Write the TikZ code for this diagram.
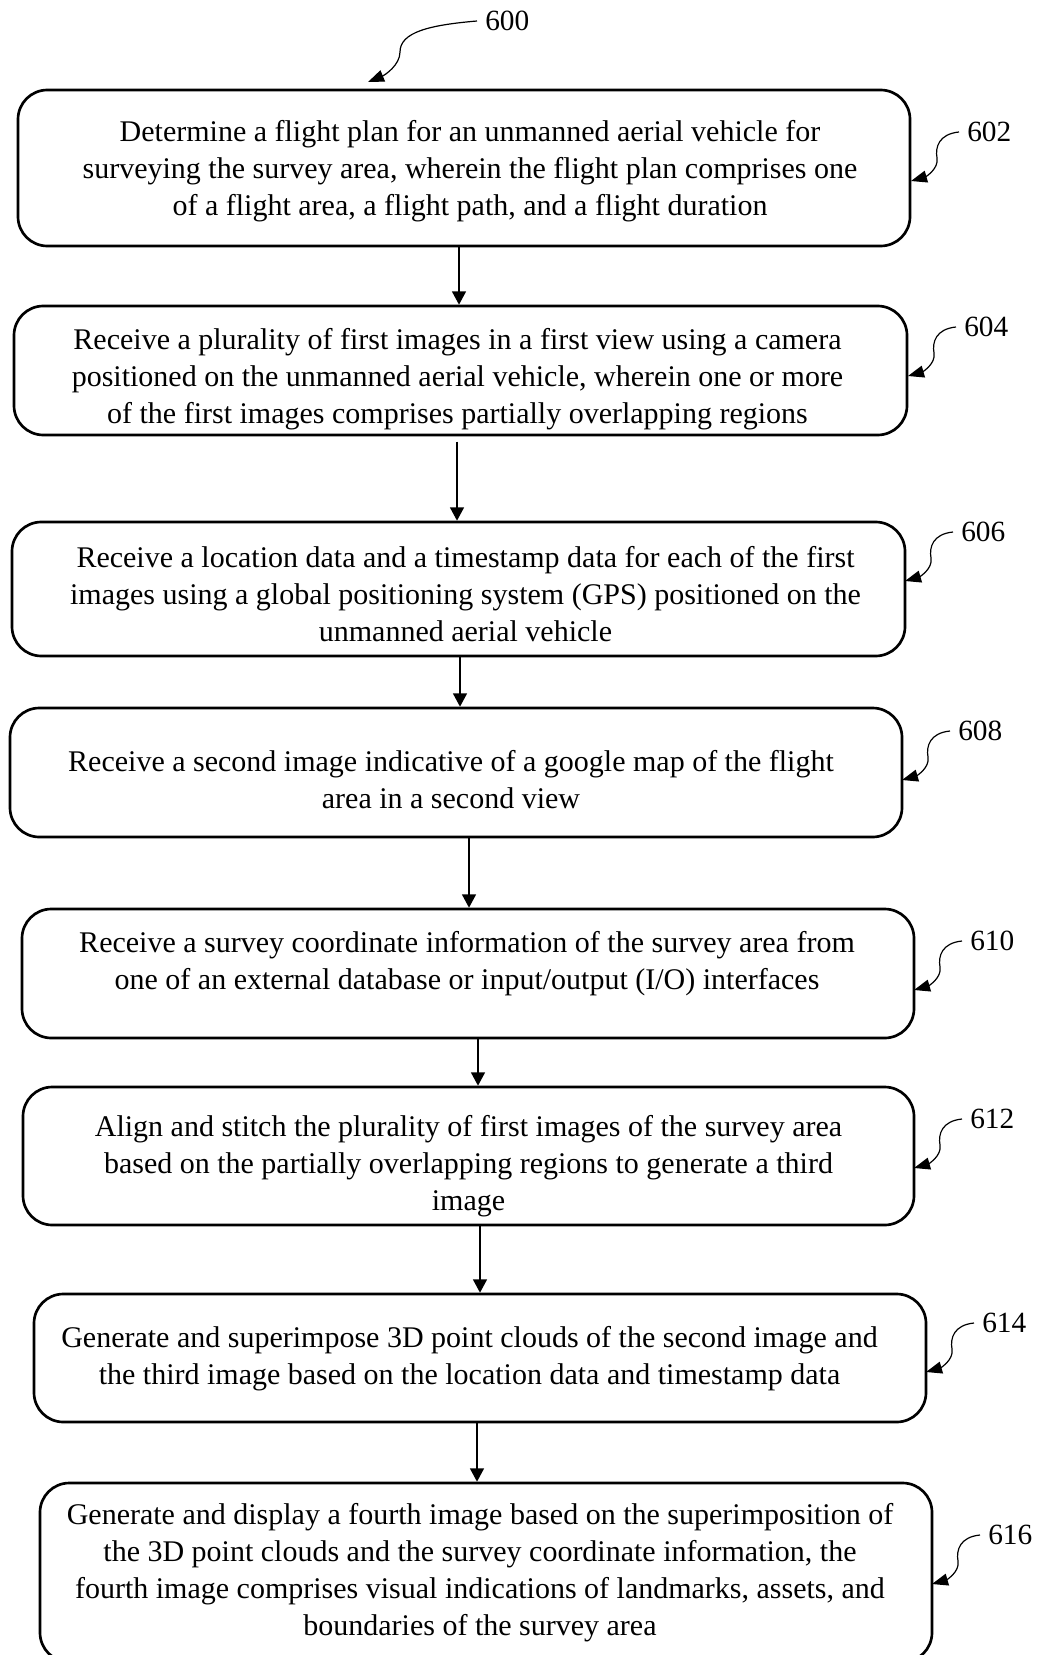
\documentclass[tikz,border=0pt]{standalone}
\usepackage{fontspec}
\setmainfont{Liberation Serif}
\usetikzlibrary{arrows.meta,calc}
\newcommand\reflab[3]{%
  \coordinate (t#1) at (#2,#3);
  \node[reftext, anchor=west] (l#1) at ($(t#1)+(48,-49)$) {#1};
  \draw[refarrow] (l#1.west) .. controls ($(t#1)+(28,-47)$) and ($(t#1)+(24,-34)$) .. ($(t#1)+(26,-23)$) .. controls ($(t#1)+(28,-12)$) and ($(t#1)+(14,-4)$) .. (t#1);
}
\begin{document}
\begin{tikzpicture}[x=0.75pt,y=-0.75pt,
  box/.style={draw, line width=2pt, rounded corners=22pt, inner sep=0pt},
  txt/.style={align=center, font=\fontsize{22.5}{27.75}\selectfont, inner sep=0pt},
  flow/.style={line width=1.1pt, -{Triangle[length=10pt,width=10.5pt]}},
  reftext/.style={font=\fontsize{22}{26}\selectfont, inner xsep=6pt, inner ysep=0pt},
  refarrow/.style={line width=0.9pt, -{Triangle[length=12pt,width=9pt]}}]
\useasboundingbox (0,0) rectangle (1040,1655);

\node[box, minimum width=669pt, minimum height=117pt] (b602) at (464,168) {};
\node[box, minimum width=669.75pt, minimum height=96.75pt] (b604) at (460.5,370.5) {};
\node[box, minimum width=669.75pt, minimum height=100.5pt] (b606) at (458.5,589) {};
\node[box, minimum width=669pt, minimum height=96.75pt] (b608) at (456,772.5) {};
\node[box, minimum width=669pt, minimum height=96.75pt] (b610) at (468,973.5) {};
\node[box, minimum width=668.25pt, minimum height=103.5pt] (b612) at (468.5,1156) {};
\node[box, minimum width=669pt, minimum height=96pt] (b614) at (480,1358) {};
\node[box, minimum width=669pt, minimum height=134.25pt] (b616) at (486,1572.5) {};

\node[txt] (s602) at ($(b602)+(6,3)$)
 {Determine a flight plan for an unmanned aerial vehicle for\\surveying the survey area, wherein the flight plan comprises one\\of a flight area, a flight path, and a flight duration};
\node[txt] (s604) at ($(b604)+(-3,8.5)$)
 {Receive a plurality of first images in a first view using a camera\\positioned on the unmanned aerial vehicle, wherein one or more\\of the first images comprises partially overlapping regions};
\node[txt] (s606) at ($(b606)+(7,5)$)
 {Receive a location data and a timestamp data for each of the first\\images using a global positioning system (GPS) positioned on the\\unmanned aerial vehicle};
\node[txt] (s608) at ($(b608)+(-5,7.5)$)
 {Receive a second image indicative of a google map of the flight\\area in a second view};
\node[txt] (s610) at ($(b610)+(-1,-9.5)$)
 {Receive a survey coordinate information of the survey area from\\one of an external database or input/output (I/O) interfaces};
\node[txt] (s612) at ($(b612)+(0,10.5)$)
 {Align and stitch the plurality of first images of the survey area\\based on the partially overlapping regions to generate a third\\image};
\node[txt] (s614) at ($(b614)+(-10.5,1)$)
 {Generate and superimpose 3D point clouds of the second image and\\the third image based on the location data and timestamp data};
\node[txt] (s616) at ($(b616)+(-6,0)$)
 {Generate and display a fourth image based on the superimposition of\\the 3D point clouds and the survey coordinate information, the\\fourth image comprises visual indications of landmarks, assets, and\\boundaries of the survey area};

\coordinate (x1) at (459,0);
\coordinate (x2) at (457,0);
\coordinate (x3) at (460,0);
\coordinate (x4) at (469,0);
\coordinate (x5) at (478,0);
\coordinate (x6) at (480,0);
\coordinate (x7) at (477,0);
\draw[flow] (b602.south -| x1) -- (b604.north -| x1);
\draw[flow, shorten <=4pt] (b604.south -| x2) -- (b606.north -| x2);
\draw[flow] (b606.south -| x3) -- (b608.north -| x3);
\draw[flow] (b608.south -| x4) -- (b610.north -| x4);
\draw[flow] (b610.south -| x5) -- (b612.north -| x5);
\draw[flow] (b612.south -| x6) -- (b614.north -| x6);
\draw[flow] (b614.south -| x7) -- (b616.north -| x7);

\node[reftext, anchor=west] (l600) at (477,21) {600};
\coordinate (t600) at (368,82);
\draw[refarrow] (l600.west) .. controls (430,25) and (400,32) .. (400,52) .. controls (400,65) and (385,75) .. (t600);

\reflab{602}{911}{181}
\reflab{604}{908}{376}
\reflab{606}{905}{581}
\reflab{608}{902}{780}
\reflab{610}{914}{990}
\reflab{612}{914}{1168}
\reflab{614}{926}{1372}
\reflab{616}{932}{1584}
\end{tikzpicture}
\end{document}
